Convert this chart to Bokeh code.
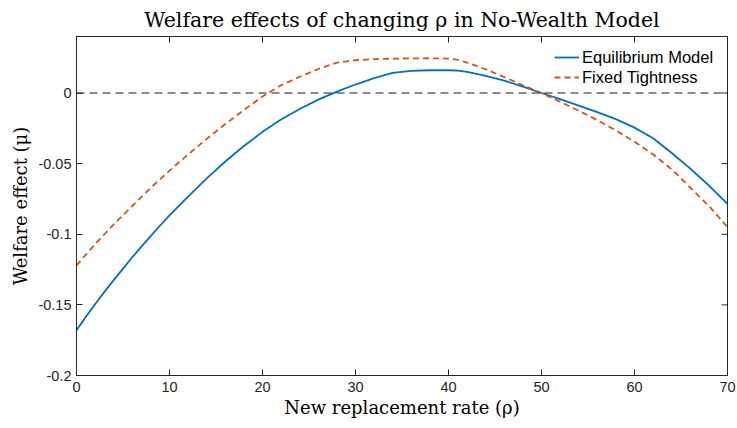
import math
from bokeh.plotting import figure
from bokeh.models import Range1d, FixedTicker, Span
from bokeh.embed import file_html
from bokeh.resources import INLINE

# New replacement rate (rho), in percent
rho = [0, 1, 2, 3, 4, 5, 6, 7, 8, 9, 10, 12, 14, 16, 18, 20, 22, 24, 26, 28,
       30, 32, 34, 36, 38, 40, 41, 42, 44, 46, 48, 50, 52, 54, 56, 58, 60,
       62, 64, 66, 68, 70]

# Welfare effect (mu) in the equilibrium model
equilibrium = [-0.168, -0.1585, -0.1495, -0.1408, -0.1325, -0.1243, -0.1163,
               -0.1086, -0.1011, -0.0938, -0.0867, -0.0733, -0.0605, -0.0485,
               -0.0375, -0.0275, -0.0188, -0.0113, -0.0047, 0.0010, 0.0060,
               0.0105, 0.0142, 0.0156, 0.0161, 0.0161, 0.0158, 0.0149,
               0.0122, 0.0087, 0.0045, 0.0000, -0.0044, -0.0089, -0.0135,
               -0.0185, -0.0245, -0.032, -0.0425, -0.0535, -0.0655, -0.0785]

# Welfare effect (mu) holding labour-market tightness fixed
fixed_tightness = [-0.122, -0.1145, -0.107, -0.100, -0.093, -0.0865, -0.080,
                   -0.0735, -0.067, -0.061, -0.055, -0.0435, -0.0325, -0.022,
                   -0.012, -0.0025, 0.0055, 0.0115, 0.0170, 0.0215, 0.0232,
                   0.0240, 0.0243, 0.0245, 0.0246, 0.0244, 0.0235, 0.0215,
                   0.0168, 0.0112, 0.0055, 0.0000, -0.0062, -0.0125, -0.0192,
                   -0.0265, -0.0345, -0.0435, -0.054, -0.067, -0.080, -0.095]

x_ticks = [0, 10, 20, 30, 40, 50, 60, 70]
y_ticks = [-0.2, -0.15, -0.1, -0.05, 0]
y_tick_labels = ["-0.2", "-0.15", "-0.1", "-0.05", "0"]

X_MIN, X_MAX = 0, 70
Y_MIN, Y_MAX = -0.2, 0.04

AX = "#262626"
SANS = "Liberation Sans"
SERIF = "DejaVu Serif"
TICK_LEN = 6

p = figure(width=737, height=428, output_backend="svg", toolbar_location=None,
           x_range=Range1d(X_MIN, X_MAX), y_range=Range1d(Y_MIN, Y_MAX),
           min_border_left=76, min_border_right=10, min_border_top=36,
           min_border_bottom=53,
           title="Welfare effects of changing \u03c1 in No-Wealth Model")

p.title.text_font = SERIF
p.title.text_font_size = "20.5px"
p.title.text_font_style = "normal"
p.title.text_color = "#000000"
p.title.align = "center"
p.title.offset = 5

p.grid.visible = False
p.outline_line_color = AX
p.outline_line_width = 1
p.background_fill_color = "white"
p.border_fill_color = "white"

xa = p.xaxis[0]
ya = p.yaxis[0]
for ax, ticks in ((xa, x_ticks), (ya, y_ticks)):
    ax.ticker = FixedTicker(ticks=ticks)
    ax.minor_tick_line_color = None
    ax.major_tick_in = TICK_LEN
    ax.major_tick_out = 0
    ax.axis_line_color = AX
    ax.major_tick_line_color = AX
    ax.major_label_text_font = SANS
    ax.major_label_text_color = AX
    ax.major_label_text_font_size = "14.5px"
    ax.axis_label_text_font = SERIF
    ax.axis_label_text_font_size = "18px"
    ax.axis_label_text_font_style = "normal"
    ax.axis_label_text_color = "#000000"

ya.major_label_overrides = {t: s for t, s in zip(y_ticks, y_tick_labels)}
xa.major_label_standoff = 6
ya.major_label_standoff = 5
xa.axis_label = "New replacement rate (\u03c1)"
ya.axis_label = "Welfare effect (\u03bc)"
xa.axis_label_standoff = 2
ya.axis_label_standoff = 4

# inward tick marks on the top and right edges of the box (the marks are
# centred on the edge and clipped to the frame, so only the inner half shows)
p.scatter(x_ticks, [Y_MAX] * len(x_ticks), marker="dash", size=2 * TICK_LEN,
          angle=math.pi / 2, line_color=AX, line_width=1)
p.scatter([X_MAX] * len(y_ticks), y_ticks, marker="dash", size=2 * TICK_LEN,
          angle=0, line_color=AX, line_width=1)

# zero reference line
p.add_layout(Span(location=0, dimension="width", line_color="#1a1a1a",
                  line_width=1.2, line_dash="8 5"))

p.line(rho, equilibrium, line_color="#0072BD", line_width=1.8,
       legend_label="Equilibrium Model")
p.line(rho, fixed_tightness, line_color="#D95319", line_width=1.8,
       line_dash="6 4", legend_label="Fixed Tightness")

leg = p.legend[0]
# (x, y) offset of the legend's lower-left corner from the frame's lower-left
leg.location = (478, 288)
leg.border_line_color = None
leg.background_fill_alpha = 0
leg.label_text_font = SANS
leg.label_text_font_size = "16.5px"
leg.label_text_color = "#000000"
leg.glyph_width = 25
leg.glyph_height = 20
leg.label_height = 20
leg.label_standoff = 3
leg.spacing = 0
leg.padding = 4
leg.margin = 0

open("out.html", "w").write(file_html(p, INLINE))
